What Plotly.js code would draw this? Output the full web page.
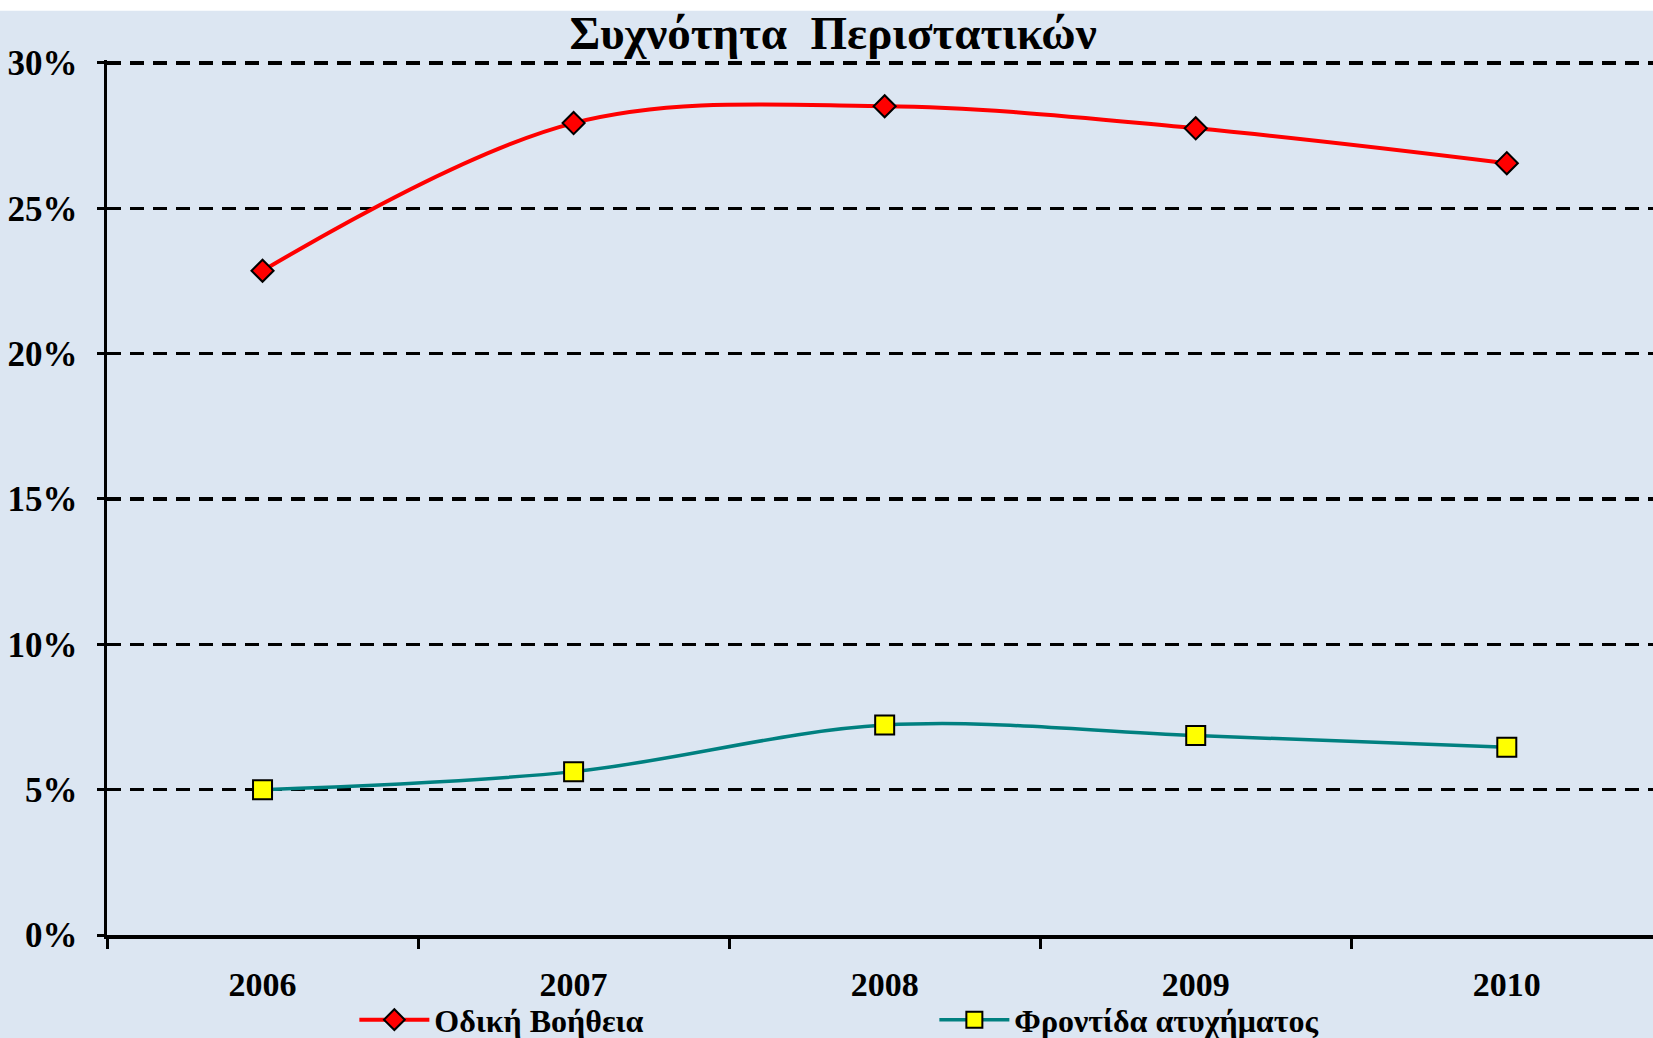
<!DOCTYPE html>
<html>
<head>
<meta charset="utf-8">
<script src="https://cdn.plot.ly/plotly-3.0.1.min.js"></script>
<style>
html,body{margin:0;padding:0;background:#ffffff;overflow:hidden;}
#chart{position:absolute;left:0;top:0;width:1653px;height:1038px;}
</style>
</head>
<body>
<div id="chart"></div>
<script>
const years = ['2006', '2007', '2008', '2009', '2010'];
const roadAssist = [22.85, 27.93, 28.51, 27.75, 26.55];
const accidentCare = [5.0, 5.62, 7.22, 6.86, 6.46];
const seriesNames = ['Οδική Βοήθεια', 'Φροντίδα ατυχήματος'];
const yTicks = [0, 5, 10, 15, 20, 25, 30];
const titleText = 'Συχνότητα  Περιστατικών';

const serif = 'Liberation Serif, Times New Roman, serif';
const bg = '#DCE6F2';

const traces = [
  {
    x: years, y: roadAssist, name: seriesNames[0], type: 'scatter', mode: 'lines+markers',
    line: {color: '#FF0000', width: 4, shape: 'spline', smoothing: 1},
    marker: {symbol: 'diamond', size: 17, color: '#FF0000', line: {color: '#000000', width: 2}}
  },
  {
    x: years, y: accidentCare, name: seriesNames[1], type: 'scatter', mode: 'lines+markers',
    line: {color: '#008080', width: 3.5, shape: 'spline', smoothing: 1},
    marker: {symbol: 'square', size: 19, color: '#FFFF00', line: {color: '#000000', width: 2}}
  }
];

const layout = {
  width: 1653, height: 1038,
  paper_bgcolor: bg, plot_bgcolor: bg,
  margin: {l: 107, r: 0, t: 60, b: 103, autoexpand: false},
  showlegend: true,
  shapes: [{
    type: 'rect', xref: 'paper', yref: 'paper', layer: 'below',
    x0: -0.08, x1: 1.01, y0: 1.0563, y1: 1.08,
    fillcolor: '#ffffff', line: {width: 0}
  }],
  title: {
    text: titleText, xref: 'container', x: 0.504, xanchor: 'center',
    yref: 'container', y: 0.969, yanchor: 'middle',
    font: {family: serif, size: 47, color: '#000000', weight: 'bold'}
  },
  xaxis: {
    type: 'category', range: [-0.5, 4.47], tickson: 'boundaries',
    ticks: 'outside', ticklen: 10, tickwidth: 3, tickcolor: '#000000',
    showline: true, linecolor: '#000000', linewidth: 3.5,
    showgrid: false, zeroline: false, ticklabelstandoff: 17,
    tickfont: {family: serif, size: 34, color: '#000000', weight: 'bold'}
  },
  yaxis: {
    range: [0, 30.1], tickvals: yTicks, ticktext: yTicks.map(v => v + '%'),
    ticks: 'outside', ticklen: 7, tickwidth: 3, tickcolor: '#000000',
    showline: true, linecolor: '#000000', linewidth: 3.5,
    showgrid: true, gridcolor: '#000000', gridwidth: 3.2, griddash: '14px,9px',
    zeroline: false, ticklabelstandoff: 12,
    tickfont: {family: serif, size: 35, color: '#000000', weight: 'bold'}
  },
  legend: {
    orientation: 'h', x: 0.16, xanchor: 'left', y: -0.097, yanchor: 'middle',
    bgcolor: 'rgba(0,0,0,0)', entrywidth: 495, entrywidthmode: 'pixels', itemwidth: 70,
    font: {family: serif, size: 32, color: '#000000', weight: 'bold'}
  }
};

Plotly.newPlot('chart', traces, layout, {displayModeBar: false, staticPlot: true});
</script>
</body>
</html>
